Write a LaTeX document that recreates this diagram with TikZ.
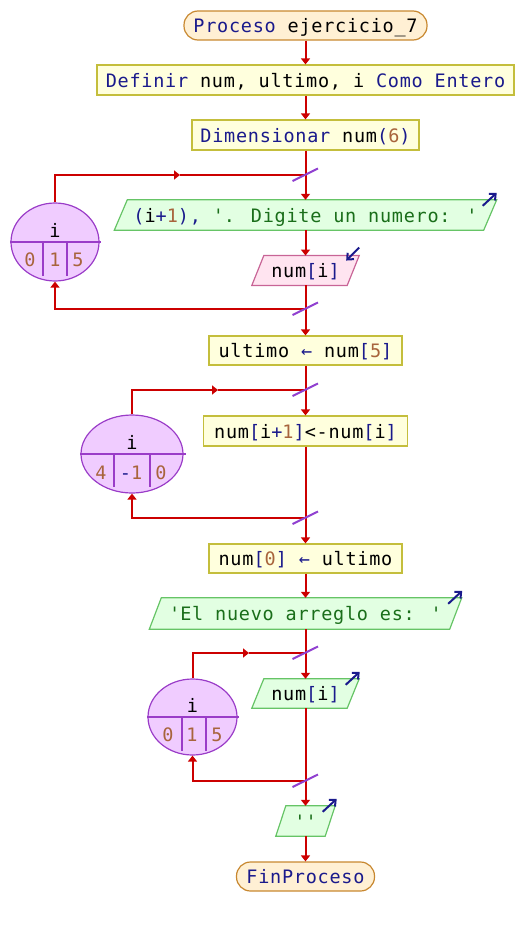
\documentclass[tikz,border=0pt]{standalone}
\usepackage{fontspec}
\newfontfamily\codefont{DejaVu Sans Mono}[LetterSpace=4]
\usetikzlibrary{arrows.meta,shapes.geometric,calc,backgrounds}

\definecolor{kwblue}{HTML}{1A1A8C}
\definecolor{numbrown}{HTML}{A8643C}
\definecolor{strgreen}{HTML}{1A6E1A}
\definecolor{flowred}{HTML}{CC0000}
\definecolor{termfill}{HTML}{FFF0D4}
\definecolor{termline}{HTML}{C88830}
\definecolor{asgfill}{HTML}{FFFFDD}
\definecolor{asgline}{HTML}{C4BE3C}
\definecolor{outfill}{HTML}{E2FFE2}
\definecolor{outline}{HTML}{66C466}
\definecolor{infill}{HTML}{FFE4F0}
\definecolor{inline}{HTML}{C86496}
\definecolor{loopfill}{HTML}{F0CCFF}
\definecolor{loopline}{HTML}{9A3CC8}
\definecolor{slashcol}{HTML}{9040D0}

\newcommand\kw[1]{\textcolor{kwblue}{#1}}
\newcommand\numc[1]{\textcolor{numbrown}{#1}}
\newcommand\strc[1]{\textcolor{strgreen}{#1}}
\newcommand\apos{\textquotesingle}

% parallelogram drawn around a (borderless) node: name, skew, style
\newcommand\drawpara[3]{%
  \draw[#3] ([xshift=#2pt]#1.north west) -- ([xshift=#2pt]#1.north east)
    -- ([xshift=-#2pt]#1.south east) -- ([xshift=-#2pt]#1.south west) -- cycle;}

\tikzset{
  txt/.style={font=\codefont\fontsize{18.5}{20}\selectfont, inner sep=0pt,
    text height=15pt, text depth=1pt},
  terminal/.style={txt, draw=termline, fill=termfill, line width=1.2pt,
    rounded corners=14pt, minimum height=29pt},
  assign/.style={txt, draw=asgline, fill=asgfill, line width=1.2pt, minimum height=30pt},
  iobox/.style={txt, minimum height=30pt},
  outshape/.style={draw=outline, fill=outfill, line width=1.2pt},
  inshape/.style={draw=inline, fill=infill, line width=1.2pt},
  loopvar/.style={ellipse, draw=loopline, fill=loopfill, line width=1.2pt, inner sep=0pt},
  ediv/.style={draw=loopline, line width=1.2pt},
  flow/.style={draw=flowred, line width=2pt, -{Triangle[width=9pt,length=6pt]}},
  line/.style={draw=flowred, line width=2pt},
  slash/.style={draw=slashcol, line width=2pt},
  iconarrow/.style={draw=kwblue, line width=2pt, -{Straight Barb[width=9pt,length=5pt]}},
}

\begin{document}
\begin{tikzpicture}[x=1pt,y=-1pt]
\useasboundingbox (0,0) rectangle (526,926);

% ---- main column ----
\node[terminal, minimum width=243pt] (p1) at (305.5,25.5) {\kw{Proceso} ejercicio\_7};
\node[assign, minimum width=417pt] (d1) at (305.5,80) {\kw{Definir} num, ultimo, i \kw{Como Entero}};
\node[assign, minimum width=227pt] (d2) at (305.5,135) {\kw{Dimensionar} num\kw{(}\numc{6}\kw{)}};
\coordinate (j1) at (305.5,175);
\node[iobox, minimum width=369pt] (o1) at (305.5,215) {\kw{(}i\kw{+}\numc{1}\kw{),} \strc{\apos. Digite un numero: \apos}};
\node[iobox, minimum width=95pt, minimum height=29.5pt] (in1) at (305.5,270.5) {num\kw{[}i\kw{]}};
\coordinate (j2) at (305.5,309);

\node[assign, minimum width=193pt, minimum height=29pt] (a1) at (305.5,350.5) {ultimo \kw{←} num\kw{[}\numc{5}\kw{]}};
\coordinate (j3) at (305.5,390);
\node[assign, minimum width=204pt] (a2) at (305.5,431) {num\kw{[}i\kw{+}\numc{1}\kw{]}<-num\kw{[}i\kw{]}};
\coordinate (j4) at (305.5,518);

\node[assign, minimum width=193pt, minimum height=29pt] (a3) at (305.5,558.5) {num\kw{[}\numc{0}\kw{]} \kw{←} ultimo};
\node[iobox, minimum width=300pt, minimum height=31pt] (o2) at (305.5,613.5) {\strc{\apos El nuevo arreglo es: \apos}};
\coordinate (j5) at (305.5,653);
\node[iobox, minimum width=95pt, minimum height=29pt] (o3) at (305.5,693.5) {num\kw{[}i\kw{]}};
\coordinate (j6) at (305.5,781);
\node[iobox, minimum width=49pt] (o4) at (305.5,821) {\strc{\apos\apos}};
\node[terminal, minimum width=138pt] (p2) at (305.5,876.5) {\kw{FinProceso}};

% ---- parallelogram outlines behind the texts ----
\begin{scope}[on background layer]
  \drawpara{o1}{6.5}{outshape}
  \drawpara{in1}{6}{inshape}
  \drawpara{o2}{6}{outshape}
  \drawpara{o3}{6}{outshape}
  \drawpara{o4}{5}{outshape}
\end{scope}

% ---- loop counters ----
\node[loopvar, minimum width=88pt, minimum height=78pt] (e1) at (55,242) {};
\draw[ediv] (e1.west) -- ($(e1.east)+(1,0)$);
\draw[ediv] ($(e1.center)+(-12,0)$) -- ($(e1.center)+(-12,34)$);
\draw[ediv] ($(e1.center)+(12,0)$) -- ($(e1.center)+(12,34)$);
\node[txt] (e1v) at (55,230.5) {i};
\node[txt] (e1a) at (30,259.7) {\numc{0}};
\node[txt] (e1b) at (55,259.7) {\numc{1}};
\node[txt] (e1c) at (78,259.7) {\numc{5}};

\node[loopvar, minimum width=102pt, minimum height=78pt] (e2) at (132,454) {};
\draw[ediv] (e2.west) -- ($(e2.east)+(2,0)$);
\draw[ediv] ($(e2.center)+(-18,0)$) -- ($(e2.center)+(-18,33)$);
\draw[ediv] ($(e2.center)+(18,0)$) -- ($(e2.center)+(18,33)$);
\node[txt] (e2v) at (132,442.5) {i};
\node[txt] (e2a) at (101,472) {\numc{4}};
\node[txt] (e2b) at (131,472) {\kw{-}\numc{1}};
\node[txt] (e2c) at (161,472) {\numc{0}};

\node[loopvar, minimum width=89pt, minimum height=76pt] (e3) at (192.5,717) {};
\draw[ediv] (e3.west) -- ($(e3.east)+(1,0)$);
\draw[ediv] ($(e3.center)+(-10.5,0)$) -- ($(e3.center)+(-10.5,34)$);
\draw[ediv] ($(e3.center)+(13.5,0)$) -- ($(e3.center)+(13.5,34)$);
\node[txt] (e3v) at (192.5,705.5) {i};
\node[txt] (e3a) at (168,734) {\numc{0}};
\node[txt] (e3b) at (192,734) {\numc{1}};
\node[txt] (e3c) at (217,734) {\numc{5}};

% ---- flow lines ----
\draw[flow] (p1) -- (d1);
\draw[flow] (d1) -- (d2);
\draw[line] (d2) -- (j1);
\draw[flow] (j1) -- (o1.north);
\draw[flow] (o1) -- (in1);
\draw[line] (in1) -- (j2);
\draw[flow] (j2) -| (e1.south);
\coordinate (m1) at (180,175);
\draw[flow] (e1.north) |- (m1);
\draw[line] (m1) -- (j1);

\draw[flow] (j2) -- (a1.north);
\draw[line] (a1) -- (j3);
\draw[flow] (j3) -- (a2.north);
\draw[line] (a2) -- (j4);
\draw[flow] (j4) -| (e2.south);
\coordinate (m2) at (218,390);
\draw[flow] (e2.north) |- (m2);
\draw[line] (m2) -- (j3);

\draw[flow] (j4) -- (a3.north);
\draw[flow] (a3) -- (o2);
\draw[line] (o2) -- (j5);
\draw[flow] (j5) -- (o3.north);
\draw[line] (o3) -- (j6);
\draw[flow] (j6) -| (e3.south);
\coordinate (m3) at (249,653);
\draw[flow] (e3.north) |- (m3);
\draw[line] (m3) -- (j5);
\draw[flow] (j6) -- (o4.north);
\draw[flow] (o4) -- (p2);

% ---- loop junction marks ----
\foreach \j in {j1,j2,j3,j4,j5,j6}
  \draw[slash] ($(\j)+(-13,6)$) -- ($(\j)+(12.5,-6.5)$);

% ---- input/output icons ----
\draw[iconarrow] ($(o1.north east)+(-7.5,6)$) -- ($(o1.north east)+(6.5,-7)$);
\draw[iconarrow] ($(in1.north east)+(6,-8)$) -- ($(in1.north east)+(-7,5)$);
\draw[iconarrow] ($(o2.north east)+(-7.5,6)$) -- ($(o2.north east)+(6.5,-7)$);
\draw[iconarrow] ($(o3.north east)+(-7.5,6)$) -- ($(o3.north east)+(6.5,-7)$);
\draw[iconarrow] ($(o4.north east)+(-7.5,6)$) -- ($(o4.north east)+(6.5,-7)$);
\end{tikzpicture}
\end{document}
